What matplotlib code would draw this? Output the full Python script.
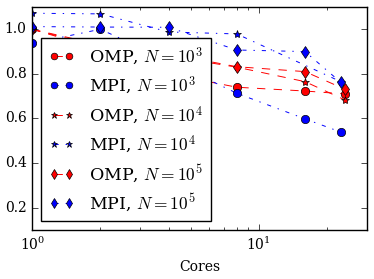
import numpy as np
import matplotlib
matplotlib.use("Agg")
import matplotlib.pyplot as plt

plt.style.use("classic")
plt.rcParams["font.family"] = "serif"
plt.rcParams["font.serif"] = ["DejaVu Serif"]
plt.rcParams["mathtext.fontset"] = "cm"
plt.rcParams["font.size"] = 10

# =========================
# DATI (efficienza)
# =========================
cores_omp = [1, 2, 4, 8, 16, 24]
cores_mpi = [1, 2, 4, 8, 16, 23]
cores_mpi_1e4 = [1, 2, 4, 8, 23]

omp_1e3 = [1.00, 0.91, 0.80, 0.74, 0.723, 0.71]
mpi_1e3 = [0.937, 1.00, 0.86, 0.713, 0.598, 0.539]
omp_1e4 = [1.00, 0.92, 0.88, 0.83, 0.765, 0.683]
mpi_1e4 = [1.072, 1.069, 0.988, 0.979, 0.765]
omp_1e5 = [1.00, 0.93, 0.89, 0.832, 0.81, 0.731]
mpi_1e5 = [1.012, 1.01, 1.009, 0.907, 0.90, 0.762]

fig = plt.figure(figsize=(3.74, 2.79), dpi=100)
ax = fig.add_axes([0.086, 0.176, 0.895, 0.799])

series = [
    (cores_omp, omp_1e3, "r", "o", "--", r"OMP, $N=10^3$"),
    (cores_mpi, mpi_1e3, "b", "o", "-.", r"MPI, $N=10^3$"),
    (cores_omp, omp_1e4, "r", "*", "--", r"OMP, $N=10^4$"),
    (cores_mpi_1e4, mpi_1e4, "b", "*", "-.", r"MPI, $N=10^4$"),
    (cores_omp, omp_1e5, "r", "d", "--", r"OMP, $N=10^5$"),
    (cores_mpi, mpi_1e5, "b", "d", "-.", r"MPI, $N=10^5$"),
]

for x, y, c, m, ls, lab in series:
    ax.plot(x, y, color=c, marker=m, linestyle=ls, lw=0.7, markersize=6,
            markeredgewidth=0.5, label=lab)

ax.set_xscale("log")
ax.set_xlim(1, 30)
ax.set_ylim(0.1, 1.1)
ax.set_yticks([0.2, 0.4, 0.6, 0.8, 1.0])
ax.set_xlabel("Cores")
ax.legend(loc="lower left", numpoints=2, fontsize=12.5, handlelength=1.5,
          markerscale=0.8, labelspacing=0.44, borderpad=0.45)

plt.savefig("out.png", dpi=100)
